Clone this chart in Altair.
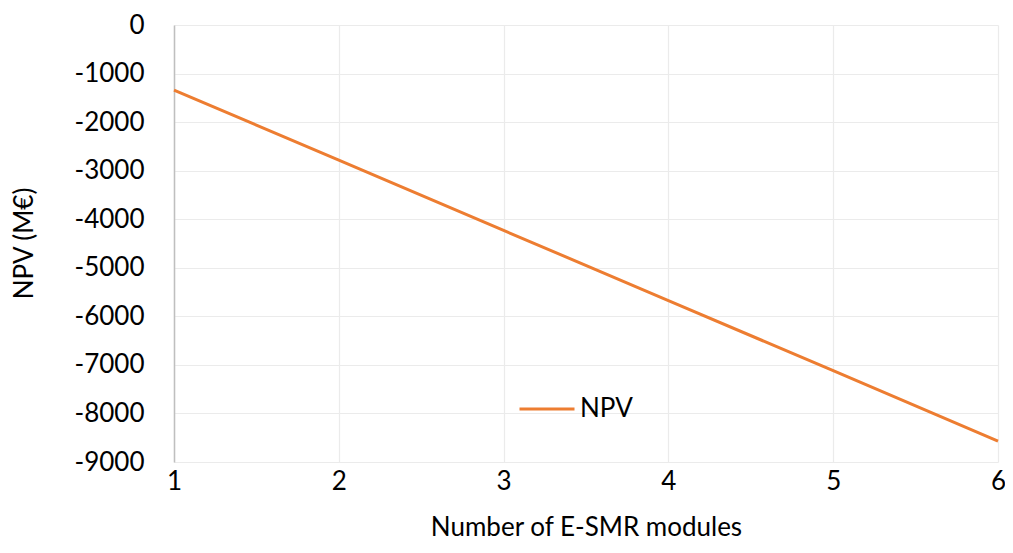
import altair as alt
import pandas as pd

modules = [1, 2, 3, 4, 5, 6]
npv = [-1340, -2785, -4230, -5675, -7120, -8570]
series = ["NPV"] * len(modules)

df = pd.DataFrame({"modules": modules, "npv": npv, "series": series})

FONT = "Lato"
FS = 26

chart = alt.Chart(df).mark_line(strokeWidth=3).encode(
    x=alt.X("modules:Q",
            scale=alt.Scale(domain=[1, 6], nice=False, zero=False),
            axis=alt.Axis(values=[1, 2, 3, 4, 5, 6], title="Number of E-SMR modules",
                          domain=False, ticks=False, labelPadding=6, labelFlush=False,
                          grid=True, gridColor="#ebebeb", gridWidth=1.2,
                          titleX=412, titleY=65, titleBaseline="middle",
                          labelFontSize=FS, titleFontSize=FS,
                          labelFont=FONT, titleFont=FONT,
                          labelColor="#000000", titleColor="#000000",
                          titleFontWeight="normal")),
    y=alt.Y("npv:Q",
            scale=alt.Scale(domain=[-9000, 0], nice=False, zero=False),
            axis=alt.Axis(values=list(range(-9000, 1, 1000)), title="NPV (M€)",
                          labelExpr="'' + datum.value", labelFlush=False,
                          domain=True, domainColor="#bfbfbf", domainWidth=1.5,
                          ticks=False, labelPadding=30,
                          grid=True, gridColor="#ebebeb", gridWidth=1.2,
                          titleX=-150, titleY=218, titleBaseline="middle", titleAngle=-90,
                          labelFontSize=FS, titleFontSize=FS,
                          labelFont=FONT, titleFont=FONT,
                          labelColor="#000000", titleColor="#000000",
                          titleFontWeight="normal")),
    color=alt.Color("series:N",
                    scale=alt.Scale(domain=["NPV"], range=["#ED7D31"]),
                    legend=alt.Legend(title=None, orient="none", legendX=344, legendY=355,
                                      symbolType="stroke", symbolSize=3025,
                                      symbolStrokeWidth=3, labelOffset=4,
                                      labelFontSize=FS, labelFont=FONT,
                                      labelColor="#000000")),
).properties(
    width=824, height=437,
    autosize=alt.AutoSizeParams(type="none"),
    padding={"left": 166, "top": 17, "right": 7, "bottom": 78},
).configure_view(stroke=None)

chart.save("out.html", embed_options={"renderer": "svg", "actions": False})
